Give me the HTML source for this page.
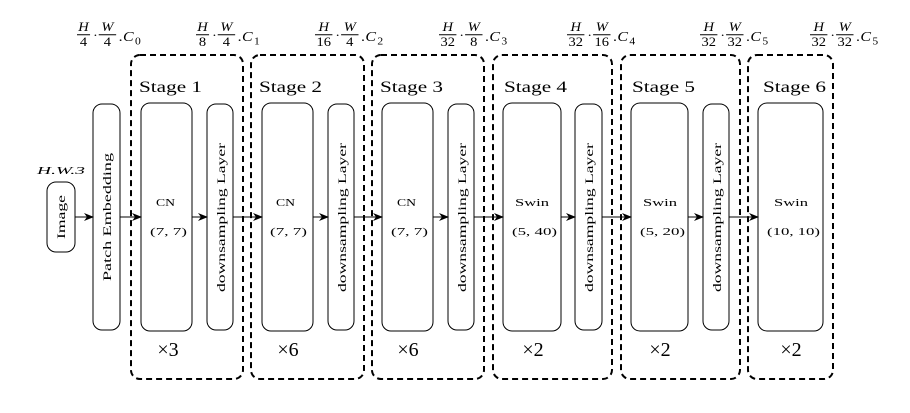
<!DOCTYPE html>
<html><head><meta charset="utf-8"><style>
html,body{margin:0;padding:0;background:#fff;}
svg{display:block;font-family:"Liberation Serif","DejaVu Serif",serif;}
.n{font-style:italic;font-size:10px;}
.d{font-size:10px;}
.c{font-style:italic;font-size:11px;}
.s{font-size:8px;}
</style></head><body>
<svg width="910" height="413" viewBox="0 0 910 413" xmlns="http://www.w3.org/2000/svg">
<defs>
<marker id="ar" markerWidth="10" markerHeight="8" refX="9" refY="4" orient="auto" markerUnits="userSpaceOnUse">
<path d="M0,0 L10,4 L0,8 L3,4 Z" fill="#000"/>
</marker>
</defs>

<!-- top labels -->
<g transform="translate(77,-9) scale(1.45,1.25)">
<text class="n" x="4.5" y="32" text-anchor="middle">H</text><line x1="0" y1="35" x2="9" y2="35" stroke="#000" stroke-width="0.8"/><text class="d" x="4.5" y="44" text-anchor="middle">4</text>
<text x="11" y="39" font-size="10">·</text>
<text class="n" x="21" y="32" text-anchor="middle">W</text><line x1="15" y1="35" x2="27" y2="35" stroke="#000" stroke-width="0.8"/><text class="d" x="21" y="44" text-anchor="middle">4</text>
<text class="c" x="29" y="40">.C</text><text class="s" x="40" y="43">0</text>
</g>
<g transform="translate(196,-9) scale(1.45,1.25)">
<text class="n" x="4.5" y="32" text-anchor="middle">H</text><line x1="0" y1="35" x2="9" y2="35" stroke="#000" stroke-width="0.8"/><text class="d" x="4.5" y="44" text-anchor="middle">8</text>
<text x="11" y="39" font-size="10">·</text>
<text class="n" x="21" y="32" text-anchor="middle">W</text><line x1="15" y1="35" x2="27" y2="35" stroke="#000" stroke-width="0.8"/><text class="d" x="21" y="44" text-anchor="middle">4</text>
<text class="c" x="29" y="40">.C</text><text class="s" x="40" y="43">1</text>
</g>
<g transform="translate(315,-9) scale(1.45,1.25)">
<text class="n" x="6" y="32" text-anchor="middle">H</text><line x1="0" y1="35" x2="12" y2="35" stroke="#000" stroke-width="0.8"/><text class="d" x="6" y="44" text-anchor="middle">16</text>
<text x="14" y="39" font-size="10">·</text>
<text class="n" x="24" y="32" text-anchor="middle">W</text><line x1="18" y1="35" x2="30" y2="35" stroke="#000" stroke-width="0.8"/><text class="d" x="24" y="44" text-anchor="middle">4</text>
<text class="c" x="32" y="40">.C</text><text class="s" x="43" y="43">2</text>
</g>
<g transform="translate(439,-9) scale(1.45,1.25)">
<text class="n" x="6" y="32" text-anchor="middle">H</text><line x1="0" y1="35" x2="12" y2="35" stroke="#000" stroke-width="0.8"/><text class="d" x="6" y="44" text-anchor="middle">32</text>
<text x="14" y="39" font-size="10">·</text>
<text class="n" x="24" y="32" text-anchor="middle">W</text><line x1="18" y1="35" x2="30" y2="35" stroke="#000" stroke-width="0.8"/><text class="d" x="24" y="44" text-anchor="middle">8</text>
<text class="c" x="32" y="40">.C</text><text class="s" x="43" y="43">3</text>
</g>
<g transform="translate(567,-9) scale(1.45,1.25)">
<text class="n" x="6" y="32" text-anchor="middle">H</text><line x1="0" y1="35" x2="12" y2="35" stroke="#000" stroke-width="0.8"/><text class="d" x="6" y="44" text-anchor="middle">32</text>
<text x="14" y="39" font-size="10">·</text>
<text class="n" x="24" y="32" text-anchor="middle">W</text><line x1="18" y1="35" x2="30" y2="35" stroke="#000" stroke-width="0.8"/><text class="d" x="24" y="44" text-anchor="middle">16</text>
<text class="c" x="32" y="40">.C</text><text class="s" x="43" y="43">4</text>
</g>
<g transform="translate(700,-9) scale(1.45,1.25)">
<text class="n" x="6" y="32" text-anchor="middle">H</text><line x1="0" y1="35" x2="12" y2="35" stroke="#000" stroke-width="0.8"/><text class="d" x="6" y="44" text-anchor="middle">32</text>
<text x="14" y="39" font-size="10">·</text>
<text class="n" x="24" y="32" text-anchor="middle">W</text><line x1="18" y1="35" x2="30" y2="35" stroke="#000" stroke-width="0.8"/><text class="d" x="24" y="44" text-anchor="middle">32</text>
<text class="c" x="32" y="40">.C</text><text class="s" x="43" y="43">5</text>
</g>
<g transform="translate(810,-9) scale(1.45,1.25)">
<text class="n" x="6" y="32" text-anchor="middle">H</text><line x1="0" y1="35" x2="12" y2="35" stroke="#000" stroke-width="0.8"/><text class="d" x="6" y="44" text-anchor="middle">32</text>
<text x="14" y="39" font-size="10">·</text>
<text class="n" x="24" y="32" text-anchor="middle">W</text><line x1="18" y1="35" x2="30" y2="35" stroke="#000" stroke-width="0.8"/><text class="d" x="24" y="44" text-anchor="middle">32</text>
<text class="c" x="32" y="40">.C</text><text class="s" x="43" y="43">5</text>
</g>

<!-- dashed stage boxes -->
<g fill="none" stroke="#000" stroke-width="2" stroke-dasharray="6,4">
<rect x="131" y="55" width="112" height="324" rx="9"/>
<rect x="251" y="55" width="113" height="324" rx="9"/>
<rect x="372" y="55" width="112" height="324" rx="9"/>
<rect x="493" y="55" width="119" height="324" rx="9"/>
<rect x="621" y="55" width="119" height="324" rx="9"/>
<rect x="748" y="55" width="85" height="324" rx="9"/>
</g>

<g font-size="16" lengthAdjust="spacingAndGlyphs">
<text x="139" y="92" textLength="63" lengthAdjust="spacingAndGlyphs">Stage 1</text>
<text x="259" y="92" textLength="63" lengthAdjust="spacingAndGlyphs">Stage 2</text>
<text x="380" y="92" textLength="63" lengthAdjust="spacingAndGlyphs">Stage 3</text>
<text x="504" y="92" textLength="63" lengthAdjust="spacingAndGlyphs">Stage 4</text>
<text x="632" y="92" textLength="63" lengthAdjust="spacingAndGlyphs">Stage 5</text>
<text x="763" y="92" textLength="63" lengthAdjust="spacingAndGlyphs">Stage 6</text>
</g>

<!-- solid boxes -->
<g fill="#fff" stroke="#000" stroke-width="1">
<rect x="47" y="182" width="28" height="70" rx="9"/>
<rect x="93" y="104" width="27" height="226" rx="9"/>
<rect x="141" y="103" width="51" height="228" rx="9"/>
<rect x="207" y="104" width="26" height="226" rx="9"/>
<rect x="262" y="103" width="51" height="228" rx="9"/>
<rect x="328" y="104" width="26" height="226" rx="9"/>
<rect x="382" y="103" width="51" height="228" rx="9"/>
<rect x="448" y="104" width="26" height="226" rx="9"/>
<rect x="503" y="103" width="58" height="228" rx="9"/>
<rect x="575" y="104" width="27" height="226" rx="9"/>
<rect x="631" y="103" width="57" height="228" rx="9"/>
<rect x="703" y="104" width="26" height="226" rx="9"/>
<rect x="758" y="103" width="65" height="228" rx="9"/>
</g>

<!-- arrows -->
<g stroke="#000" stroke-width="1" marker-end="url(#ar)">
<line x1="75" y1="217" x2="93" y2="217"/>
<line x1="120" y1="217" x2="141" y2="217"/>
<line x1="192" y1="217" x2="207" y2="217"/>
<line x1="233" y1="217" x2="262" y2="217"/>
<line x1="313" y1="217" x2="328" y2="217"/>
<line x1="354" y1="217" x2="382" y2="217"/>
<line x1="433" y1="217" x2="448" y2="217"/>
<line x1="474" y1="217" x2="503" y2="217"/>
<line x1="561" y1="217" x2="575" y2="217"/>
<line x1="602" y1="217" x2="631" y2="217"/>
<line x1="688" y1="217" x2="703" y2="217"/>
<line x1="729" y1="217" x2="758" y2="217"/>
</g>

<text x="37" y="174" font-size="11" font-style="italic" textLength="48" lengthAdjust="spacingAndGlyphs">H.W.3</text>
<text transform="translate(65,195) rotate(-90)" font-size="12" text-anchor="end" textLength="44" lengthAdjust="spacingAndGlyphs">Image</text>
<text transform="translate(111,281) rotate(-90)" font-size="12" textLength="128" lengthAdjust="spacingAndGlyphs">Patch Embedding</text>
<g font-size="12">
<text transform="translate(225,292) rotate(-90)" textLength="149" lengthAdjust="spacingAndGlyphs">downsampling Layer</text>
<text transform="translate(346,292) rotate(-90)" textLength="149" lengthAdjust="spacingAndGlyphs">downsampling Layer</text>
<text transform="translate(466,292) rotate(-90)" textLength="149" lengthAdjust="spacingAndGlyphs">downsampling Layer</text>
<text transform="translate(593,292) rotate(-90)" textLength="149" lengthAdjust="spacingAndGlyphs">downsampling Layer</text>
<text transform="translate(721,292) rotate(-90)" textLength="149" lengthAdjust="spacingAndGlyphs">downsampling Layer</text>
</g>

<g font-size="11">
<text x="156" y="206" textLength="19" lengthAdjust="spacingAndGlyphs">CN</text><text x="150" y="235" textLength="37" lengthAdjust="spacingAndGlyphs">(7, 7)</text>
<text x="276" y="206" textLength="19" lengthAdjust="spacingAndGlyphs">CN</text><text x="270" y="235" textLength="37" lengthAdjust="spacingAndGlyphs">(7, 7)</text>
<text x="397" y="206" textLength="19" lengthAdjust="spacingAndGlyphs">CN</text><text x="391" y="235" textLength="37" lengthAdjust="spacingAndGlyphs">(7, 7)</text>
<text x="515" y="206" textLength="34" lengthAdjust="spacingAndGlyphs">Swin</text><text x="512" y="235" textLength="45" lengthAdjust="spacingAndGlyphs">(5, 40)</text>
<text x="643" y="206" textLength="34" lengthAdjust="spacingAndGlyphs">Swin</text><text x="640" y="235" textLength="45" lengthAdjust="spacingAndGlyphs">(5, 20)</text>
<text x="774" y="206" textLength="34" lengthAdjust="spacingAndGlyphs">Swin</text><text x="767" y="235" textLength="53" lengthAdjust="spacingAndGlyphs">(10, 10)</text>
</g>

<g font-size="20" text-anchor="middle">
<text x="168" y="356">×3</text>
<text x="288" y="356">×6</text>
<text x="408" y="356">×6</text>
<text x="533" y="356">×2</text>
<text x="660" y="356">×2</text>
<text x="791" y="356">×2</text>
</g>
</svg>
</body></html>
